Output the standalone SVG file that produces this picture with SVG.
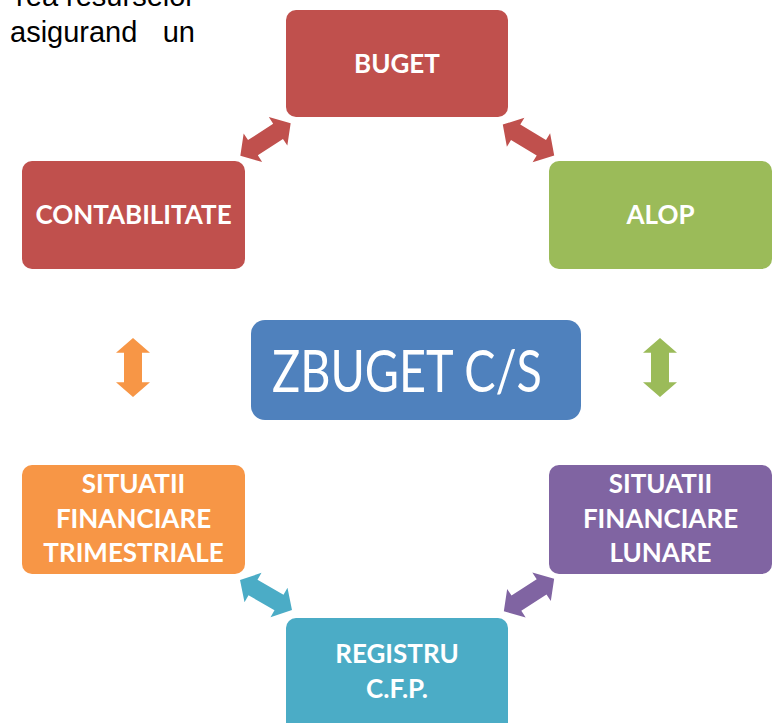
<svg xmlns="http://www.w3.org/2000/svg" width="775" height="723" viewBox="0 0 775 723">
<style>
.lbl{font-family:Lato,"Open Sans","Liberation Sans",sans-serif;font-weight:bold;font-size:26px;fill:#fff;text-anchor:middle}
.top{font-family:"Liberation Sans",Arial,sans-serif;font-size:29px;fill:#000}
</style>
<defs>
<path id="arr" d="M -30 0 L -15 -17 L -15 -9 L 15 -9 L 15 -17 L 30 0 L 15 17 L 15 9 L -15 9 L -15 17 Z"/>
</defs>
<rect width="775" height="723" fill="#fff"/>
<text class="top" x="195" y="6" text-anchor="end">rea resurselor</text>
<text class="top" x="10" y="42">asigurand</text>
<text class="top" x="195" y="42" text-anchor="end">un</text>
<g id="connectors">
<use href="#arr" fill="#C0504D" transform="translate(265.5,139.5) rotate(-33)"/>
<use href="#arr" fill="#C0504D" transform="translate(528.5,140) rotate(31)"/>
<use href="#arr" fill="#F79646" transform="translate(133,367.5) rotate(90) scale(0.98,1)"/>
<use href="#arr" fill="#9BBB59" transform="translate(660,367.5) rotate(90) scale(0.98,1)"/>
<use href="#arr" fill="#4BACC6" transform="translate(266,595) rotate(30)"/>
<use href="#arr" fill="#8064A2" transform="translate(529,595) rotate(-33)"/>
</g>
<g id="buget">
<rect x="286" y="10" width="222" height="107" rx="10" fill="#C0504D"/>
<text class="lbl" x="397" y="73">BUGET</text>
</g>
<g id="contabilitate">
<rect x="22" y="161" width="223" height="108" rx="10" fill="#C0504D"/>
<text class="lbl" x="133.5" y="224">CONTABILITATE</text>
</g>
<g id="alop">
<rect x="549" y="161" width="223" height="108" rx="10" fill="#9BBB59"/>
<text class="lbl" x="660.5" y="224">ALOP</text>
</g>
<g id="zbuget">
<rect x="251" y="320" width="330" height="100" rx="14" fill="#4F81BD"/>
<text x="407" y="392" font-family="Lato,'Open Sans','Liberation Sans',sans-serif" font-size="58" fill="#fff" text-anchor="middle" textLength="270" lengthAdjust="spacingAndGlyphs">ZBUGET C/S</text>
</g>
<g id="sit-trim">
<rect x="22" y="465" width="223" height="109" rx="10" fill="#F79646"/>
<text class="lbl" x="133.5" y="493">SITUATII</text>
<text class="lbl" x="133.5" y="528">FINANCIARE</text>
<text class="lbl" x="133.5" y="562">TRIMESTRIALE</text>
</g>
<g id="sit-lun">
<rect x="549" y="465" width="223" height="109" rx="10" fill="#8064A2"/>
<text class="lbl" x="660.5" y="493">SITUATII</text>
<text class="lbl" x="660.5" y="528">FINANCIARE</text>
<text class="lbl" x="660.5" y="562">LUNARE</text>
</g>
<g id="registru">
<rect x="286" y="618" width="222" height="120" rx="10" fill="#4BACC6"/>
<text class="lbl" x="397" y="663">REGISTRU</text>
<text class="lbl" x="397" y="698">C.F.P.</text>
</g>
</svg>
